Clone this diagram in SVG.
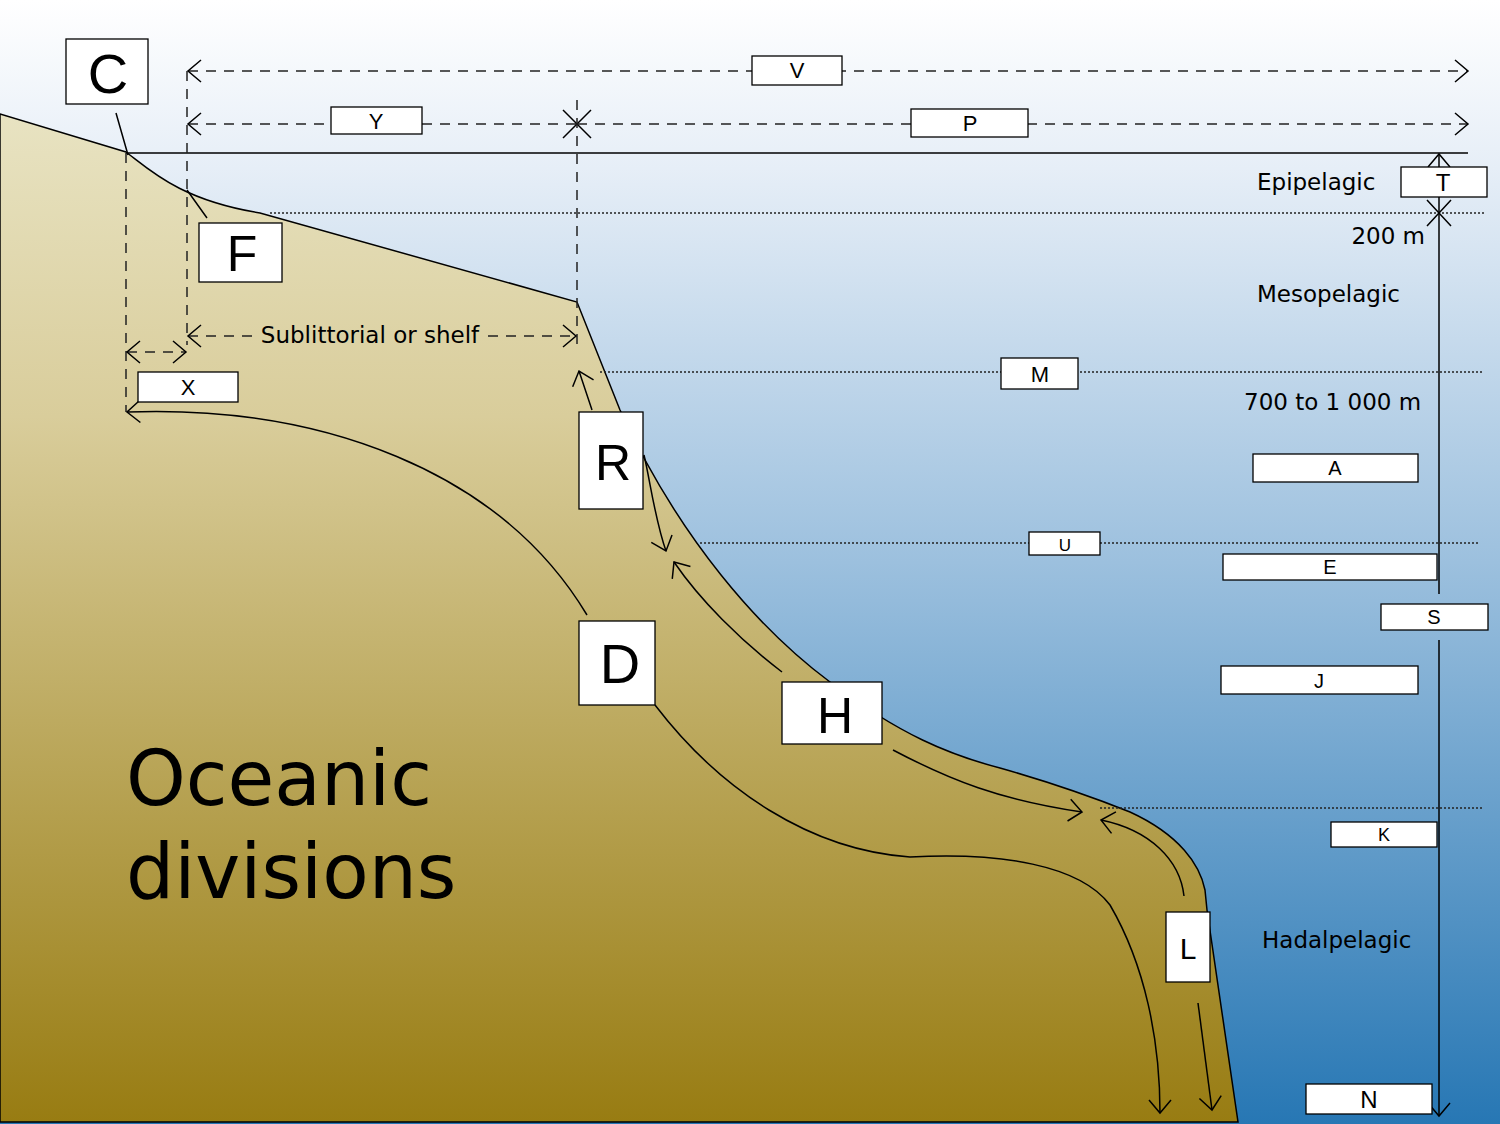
<svg xmlns="http://www.w3.org/2000/svg" width="1500" height="1124" viewBox="0 0 1500 1124">
<style>
.lbl{fill:#fff;stroke:#000;stroke-width:1.3}
.t{font-family:"Liberation Sans",Arial,sans-serif;text-anchor:middle;fill:#000}
.d{font-family:"DejaVu Sans",sans-serif;fill:#000}
.ln{fill:none;stroke:#000;stroke-width:1.5}
.dash{fill:none;stroke:#222;stroke-width:1.5;stroke-dasharray:10,8}
.dot{fill:none;stroke:#222;stroke-width:1.5;stroke-dasharray:2,2}
</style>
<defs>
<linearGradient id="sea" x1="0" y1="0" x2="0" y2="1">
<stop offset="0" stop-color="#ffffff"/><stop offset="0.15" stop-color="#e6eef7"/><stop offset="0.5" stop-color="#9cc0de"/><stop offset="1" stop-color="#2777b4"/>
</linearGradient>
<linearGradient id="land" x1="0" y1="0" x2="0" y2="1">
<stop offset="0" stop-color="#e8e3c2"/><stop offset="0.3" stop-color="#d9cd9b"/><stop offset="1" stop-color="#987c12"/>
</linearGradient>
<marker id="a" viewBox="-16 -12 18 24" markerWidth="18" markerHeight="24" refX="0" refY="0" orient="auto-start-reverse" markerUnits="userSpaceOnUse">
<path d="M-13,-11 L0,0 L-13,11" fill="none" stroke="#000" stroke-width="1.5"/>
</marker>
</defs>
<rect width="1500" height="1124" fill="url(#sea)"/>
<path id="landmass" d="M0,114 L126,152 C150,170 180,200 260,213 L577,302 L620,410 C680,540 760,630 830,682 C900,735 950,755 1000,768 C1060,785 1100,800 1130,812 C1180,835 1200,865 1205,890 L1207,910 L1238,1122 L0,1122 Z" fill="url(#land)" stroke="#000" stroke-width="1.5"/>
<g id="connectors">
<line class="ln" x1="126" y1="153" x2="1468" y2="153"/>
<line class="dot" x1="270" y1="213" x2="1485" y2="213"/>
<line class="dot" x1="600" y1="372" x2="1483" y2="372"/>
<line class="dot" x1="700" y1="543" x2="1480" y2="543"/>
<line class="dot" x1="1100" y1="808" x2="1483" y2="808"/>
<line class="ln" x1="1439" y1="213" x2="1439" y2="154" marker-end="url(#a)"/>
<path class="ln" d="M1427,200 L1451,226 M1451,200 L1427,226"/>
<line class="ln" x1="1439" y1="213" x2="1439" y2="594"/>
<line class="ln" x1="1439" y1="640" x2="1439" y2="1116" marker-end="url(#a)"/>
<line class="dash" x1="188" y1="71" x2="1468" y2="71" marker-start="url(#a)" marker-end="url(#a)"/>
<line class="dash" x1="188" y1="124" x2="577" y2="124" marker-start="url(#a)"/>
<line class="dash" x1="577" y1="124" x2="1468" y2="124" marker-end="url(#a)"/>
<path class="ln" d="M563,110 L591,138 M591,110 L563,138"/>
<line class="dash" x1="126" y1="153" x2="126" y2="412"/>
<line class="dash" x1="187" y1="71" x2="187" y2="345"/>
<line class="dash" x1="577" y1="100" x2="577" y2="352"/>
<line class="dash" x1="188" y1="336" x2="252" y2="336" marker-start="url(#a)"/>
<line class="dash" x1="488" y1="336" x2="576" y2="336" marker-end="url(#a)"/>
<line class="dash" x1="127" y1="352" x2="186" y2="352" marker-start="url(#a)" marker-end="url(#a)"/>
<path class="ln" d="M116,113 L128,155 M187,190 L207,218"/>
<path class="ln" d="M587,615 C500,470 320,405 127,412" marker-end="url(#a)"/>
<path class="ln" d="M592,410 L579,371" marker-end="url(#a)"/>
<path class="ln" d="M644,455 C650,480 655,520 666,551" marker-end="url(#a)"/>
<path class="ln" d="M782,672 C740,640 700,600 674,562" marker-end="url(#a)"/>
<path class="ln" d="M893,750 C950,780 1000,800 1082,812" marker-end="url(#a)"/>
<path class="ln" d="M1184,896 C1180,860 1150,830 1101,820" marker-end="url(#a)"/>
<path class="ln" d="M1198,1003 L1212,1110" marker-end="url(#a)"/>
<path class="ln" d="M655,705 C720,790 810,850 910,857 C1000,852 1080,865 1110,905 C1145,965 1160,1040 1160,1113" marker-end="url(#a)"/>
</g>
<g id="n-C"><rect class="lbl" x="66" y="39" width="82" height="65"/><text class="t" x="108" y="93" font-size="56">C</text></g>
<g id="n-F"><rect class="lbl" x="199" y="223" width="83" height="59"/><text class="t" x="242" y="271" font-size="50">F</text></g>
<g id="n-R"><rect class="lbl" x="579" y="412" width="64" height="97"/><text class="t" x="613" y="480" font-size="50">R</text></g>
<g id="n-D"><rect class="lbl" x="579" y="621" width="76" height="84"/><text class="t" x="620" y="683" font-size="56">D</text></g>
<g id="n-H"><rect class="lbl" x="782" y="682" width="100" height="62"/><text class="t" x="835" y="733" font-size="50">H</text></g>
<g id="n-L"><rect class="lbl" x="1166" y="912" width="44" height="70"/><text class="t" x="1188" y="959" font-size="30">L</text></g>
<g id="n-X"><rect class="lbl" x="138" y="372" width="100" height="30"/><text class="t" x="188" y="395" font-size="22">X</text></g>
<g id="n-Y"><rect class="lbl" x="331" y="107" width="91" height="27"/><text class="t" x="376" y="129" font-size="22">Y</text></g>
<g id="n-P"><rect class="lbl" x="911" y="109" width="117" height="28"/><text class="t" x="970" y="131" font-size="22">P</text></g>
<g id="n-V"><rect class="lbl" x="752" y="56" width="90" height="29"/><text class="t" x="797" y="78" font-size="22">V</text></g>
<g id="n-T"><rect class="lbl" x="1401" y="167" width="86" height="30"/><text class="t" x="1443" y="191" font-size="24">T</text></g>
<g id="n-M"><rect class="lbl" x="1001" y="358" width="77" height="31"/><text class="t" x="1040" y="382" font-size="22">M</text></g>
<g id="n-U"><rect class="lbl" x="1029" y="532" width="71" height="23"/><text class="t" x="1065" y="551" font-size="17">U</text></g>
<g id="n-A"><rect class="lbl" x="1253" y="454" width="165" height="28"/><text class="t" x="1335" y="475" font-size="20">A</text></g>
<g id="n-E"><rect class="lbl" x="1223" y="554" width="214" height="26"/><text class="t" x="1330" y="574" font-size="20">E</text></g>
<g id="n-S"><rect class="lbl" x="1381" y="604" width="107" height="26"/><text class="t" x="1434" y="624" font-size="20">S</text></g>
<g id="n-J"><rect class="lbl" x="1221" y="666" width="197" height="28"/><text class="t" x="1319" y="688" font-size="20">J</text></g>
<g id="n-K"><rect class="lbl" x="1331" y="822" width="106" height="25"/><text class="t" x="1384" y="841" font-size="18">K</text></g>
<g id="n-N"><rect class="lbl" x="1306" y="1084" width="126" height="30"/><text class="t" x="1369" y="1108" font-size="24">N</text></g>
<g id="labels">
<text class="d" x="1257" y="190" font-size="23">Epipelagic</text>
<text class="d" x="1425" y="244" font-size="23" text-anchor="end">200 m</text>
<text class="d" x="1257" y="302" font-size="23">Mesopelagic</text>
<text class="d" x="1244" y="410" font-size="23">700 to 1 000 m</text>
<text class="d" x="1262" y="948" font-size="23">Hadalpelagic</text>
<text class="d" x="370" y="343" font-size="23" text-anchor="middle">Sublittorial or shelf</text>
<text class="d" x="126" y="805" font-size="76">Oceanic</text>
<text class="d" x="126" y="898" font-size="76">divisions</text>
</g>
</svg>
